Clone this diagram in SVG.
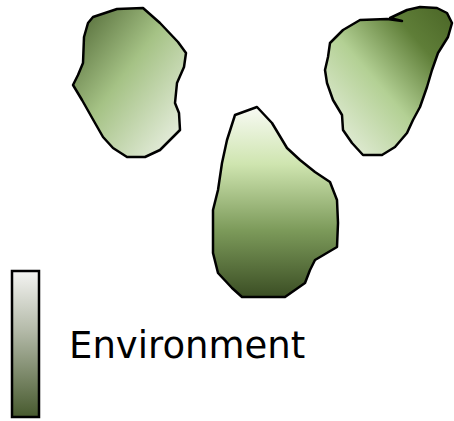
<svg xmlns="http://www.w3.org/2000/svg" width="454" height="421" viewBox="0 0 454 421">
<defs>
<linearGradient id="g1" x1="0" y1="0" x2="1" y2="1">
<stop offset="0" stop-color="#4b6230"/>
<stop offset="0.45" stop-color="#a5c285"/>
<stop offset="1" stop-color="#f3f6ef"/>
</linearGradient>
<linearGradient id="g2" x1="0" y1="1" x2="1" y2="0">
<stop offset="0" stop-color="#f0f4ea"/>
<stop offset="0.45" stop-color="#b3d094"/>
<stop offset="0.75" stop-color="#5f7e38"/>
<stop offset="1" stop-color="#4a6526"/>
</linearGradient>
<linearGradient id="g3" x1="0" y1="0" x2="0" y2="1">
<stop offset="0" stop-color="#f8faf4"/>
<stop offset="0.3" stop-color="#cfe5b0"/>
<stop offset="0.65" stop-color="#7c9a5a"/>
<stop offset="1" stop-color="#3b4e24"/>
</linearGradient>
<linearGradient id="g4" x1="0" y1="0" x2="0" y2="1">
<stop offset="0" stop-color="#f4f4f2"/>
<stop offset="0.4" stop-color="#b5bbaa"/>
<stop offset="1" stop-color="#475a2e"/>
</linearGradient>
<style>
.blob{stroke:#000;stroke-width:2.5;stroke-linejoin:round}
.lbl{font-family:"DejaVu Sans",sans-serif;font-size:37px;fill:#000}
</style>
</defs>
<g id="blob-left">
<path class="blob" fill="url(#g1)" d="M93,17 L117,9 L143,8 L160,23 L178,42 L186,53 L184,67 L177,83 L175,103 L179,113 L180,130 L170,140 L160,150 L145,157 L127,157 L113,148 L103,137 L95,123 L82,100 L73,85 L78,75 L83,63 L84,37 L88,23 Z"/>
</g>
<g id="blob-right">
<path class="blob" fill="url(#g2)" d="M330,43 L343,30 L360,20 L387,19 L402,21 L390,18 L407,10 L420,7 L437,8 L447,13 L452,23 L448,37 L438,53 L432,70 L427,87 L420,107 L413,120 L407,133 L395,147 L382,155 L363,155 L352,143 L343,130 L342,115 L333,100 L327,83 L325,70 L328,57 Z"/>
</g>
<g id="blob-center">
<path class="blob" fill="url(#g3)" d="M235,115 L257,107 L272,123 L287,148 L300,160 L315,172 L330,182 L337,200 L338,223 L337,247 L315,260 L310,270 L305,283 L285,297 L242,297 L232,288 L218,273 L213,253 L213,210 L218,190 L222,163 L227,140 Z"/>
</g>
<g id="legend">
<rect x="12" y="271" width="27" height="146" fill="url(#g4)" stroke="#000" stroke-width="2.5"/>
<text class="lbl" x="69" y="358">Environment</text>
</g>
<g id="connectors"/>
</svg>
